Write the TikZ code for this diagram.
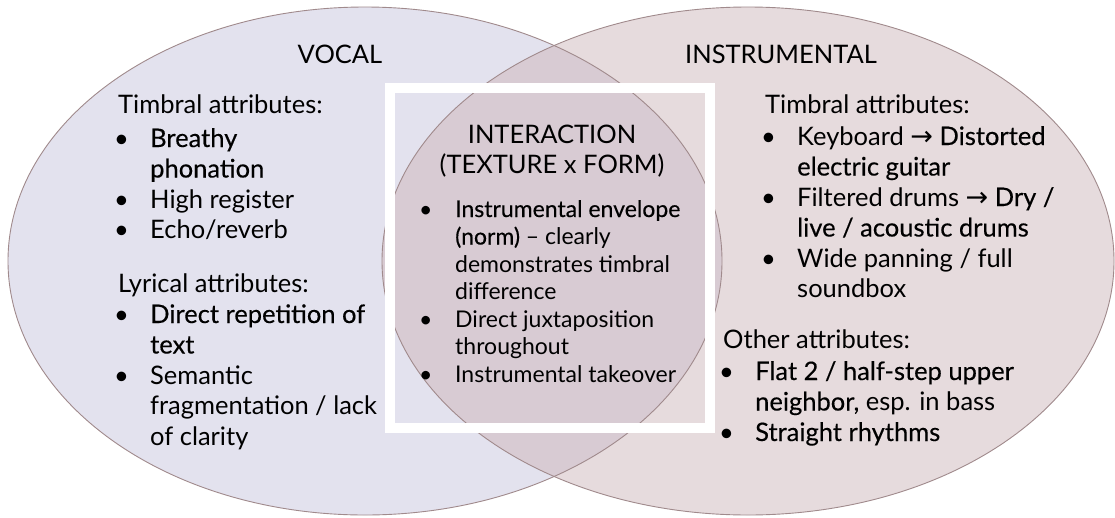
\documentclass[tikz,border=0pt]{standalone}
\usepackage{fontspec}
\setmainfont{Lato}
\newfontfamily\medfont[FakeBold=0.3]{Lato}
\newfontfamily\arrowfont{DejaVu Sans}
\usetikzlibrary{positioning}

\definecolor{vocalfill}{HTML}{E3E2EE}
\definecolor{instrfill}{HTML}{E6DBDD}
\definecolor{lensfill}{HTML}{D8CBD3}
\definecolor{rimline}{HTML}{A08A8C}

\newcommand{\strongarrow}{{\arrowfont\fontsize{27}{27}\selectfont →}}
\newcommand{\blist}[2]{\begin{tabular}[t]{@{}p{#1}@{}l@{}}#2\end{tabular}}

\tikzset{
  sidetext/.style={anchor=base west, inner sep=0pt, font=\fontsize{25.5}{30.5}\selectfont},
  midtext/.style={anchor=base west, inner sep=0pt, font=\fontsize{23}{27.5}\selectfont},
  headtext/.style={anchor=base, inner sep=0pt, font=\fontsize{25.5}{30}\selectfont},
  rim/.style={draw=rimline, line width=0.9pt}
}

\begin{document}
\begin{tikzpicture}[x=1pt,y=-1pt]
  \useasboundingbox[fill=white] (0,0) rectangle (1115,517);

  % the two sets and their overlap
  \fill[instrfill] (748,261) ellipse [x radius=366pt, y radius=254pt];
  \fill[vocalfill] (365,261) ellipse [x radius=357pt, y radius=254pt];
  \begin{scope}
    \clip (365,261) ellipse [x radius=357pt, y radius=254pt];
    \fill[lensfill] (748,261) ellipse [x radius=366pt, y radius=254pt];
  \end{scope}
  \draw[rim] (365,261) ellipse [x radius=357pt, y radius=254pt];
  \draw[rim] (748,261) ellipse [x radius=366pt, y radius=254pt];

  % frame round the interaction
  \draw[white, line width=10pt] (390,88) rectangle (710,428);

  % titles
  \node[headtext] (vocal) at (340,63) {VOCAL};
  \node[headtext] (instr) at (781,63) {INSTRUMENTAL};

  % vocal side
  \node[sidetext] (vtimhead) at (118,113) {Timbral attributes:};
  \node[sidetext] (vtimlist) at (114,147) {\blist{36pt}{%
    \textbullet & \medfont Breathy\\
                & \medfont phonation\\
    \textbullet & High register\\
    \textbullet & Echo/reverb}};
  \node[sidetext] (vlyrhead) at (118,292) {Lyrical attributes:};
  \node[sidetext] (vlyrlist) at (114,323) {\blist{36pt}{%
    \textbullet & \medfont Direct repetition of\\
                & \medfont text\\
    \textbullet & Semantic\\
                & fragmentation / lack\\
                & of clarity}};

  % interaction
  \node[headtext] (inthead) at (552,143) {INTERACTION};
  \node[headtext] (intsub) at (552,173) {(TEXTURE x FORM)};
  \node[midtext] (intlist) at (419,217) {\blist{36pt}{%
    \textbullet & \medfont Instrumental envelope\\
                & \medfont (norm) \normalfont -- clearly\\
                & demonstrates timbral\\
                & difference\\
    \textbullet & Direct juxtaposition\\
                & throughout\\
    \textbullet & Instrumental takeover}};

  % instrumental side
  \node[sidetext] (itimhead) at (765,113) {Timbral attributes:};
  \node[sidetext] (itimlist) at (761,145) {\blist{36pt}{%
    \textbullet & Keyboard \strongarrow{} \medfont Distorted\\
                & \medfont electric guitar\\
    \textbullet & Filtered drums \strongarrow{} \medfont Dry /\\
                & \medfont live / acoustic drums\\
    \textbullet & Wide panning / full\\
                & soundbox}};
  \node[sidetext] (iothhead) at (723,348) {Other attributes:};
  \node[sidetext] (iothlist) at (719,380) {\blist{36pt}{%
    \textbullet & \medfont Flat 2 / half-step upper\\
                & \medfont neighbor, \normalfont esp. in bass\\
    \textbullet & \medfont Straight rhythms}};
\end{tikzpicture}
\end{document}
